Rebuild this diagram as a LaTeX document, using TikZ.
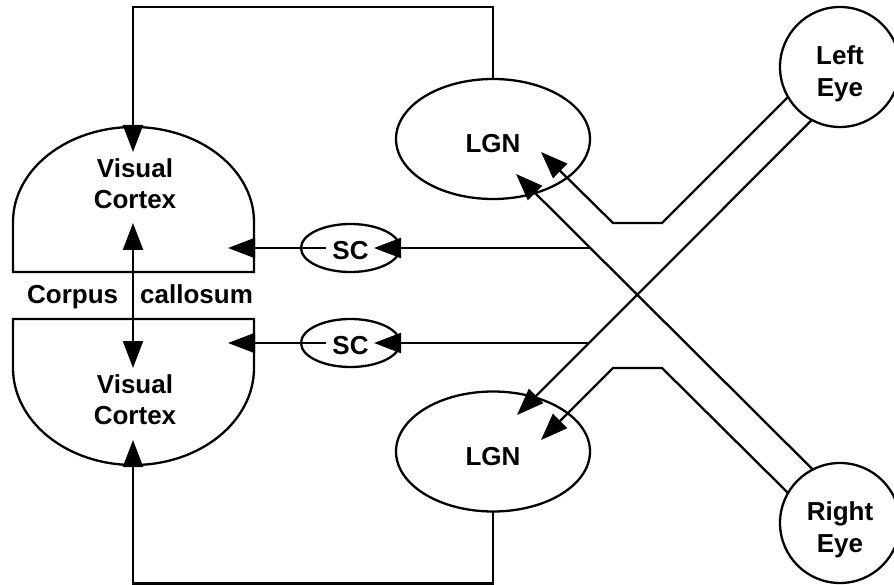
\documentclass[tikz,border=0pt]{standalone}
\usepackage{fontspec}
\setmainfont{Liberation Sans}
\usetikzlibrary{arrows.meta,shapes.geometric}
\begin{document}
\begin{tikzpicture}[x=1pt,y=-1pt,
  ln/.style={line width=2.3pt},
  arr/.style={ln,-{Triangle[length=27pt,width=20pt]}},
  dbl/.style={ln,{Triangle[length=27pt,width=20pt]}-{Triangle[length=27pt,width=20pt]}},
  lbl/.style={font=\fontsize{26}{31.5}\selectfont\bfseries, align=center},
  lgn/.style={ellipse, draw, ln, minimum width=194pt, minimum height=120pt, inner sep=0pt, outer sep=0pt, lbl, text height=27pt, text depth=0pt},
  sc/.style={ellipse, draw, ln, minimum width=99pt, minimum height=48pt, inner sep=0pt, outer sep=0pt, lbl, text height=23pt, text depth=0pt},
  eye/.style={circle, draw, ln, minimum size=120pt, inner sep=0pt, outer sep=0pt, lbl},
]
\fill[white] (0,0) rectangle (894,585);
\useasboundingbox (0,0) rectangle (894,585);

% visual cortex shapes
\draw[ln] (13,272) -- (13,222) arc[start angle=180,end angle=0,x radius=120.5pt,y radius=95pt] -- (254,272) -- cycle;
\draw[ln] (13,319) -- (13,368) arc[start angle=180,end angle=360,x radius=120.5pt,y radius=97pt] -- (254,319) -- cycle;

\node[lbl] (VC1) at (135,183.5) {Visual\\Cortex};
\node[lbl] (VC2) at (135,399.5) {Visual\\Cortex};
\node[lbl, anchor=base west, inner sep=0pt] (CC) at (27,303) {Corpus\hspace{22pt}callosum};

\node[lgn] (LGN1) at (493,139) {LGN};
\node[lgn] (LGN2) at (493,451.5) {LGN};
\node[sc] (SC1) at (350.5,248) {SC};
\node[sc] (SC2) at (350.5,343) {SC};
\node[eye] (LE) at (840,67) {\rule{0pt}{32pt}Left\\Eye};
\node[eye] (RE) at (840,523) {\rule{0pt}{32pt}Right\\Eye};

\coordinate (VC1top) at (133,152);
\coordinate (VC2bot) at (133,440);
\coordinate (VC1low) at (133,223);
\coordinate (VC2up) at (133,368);
\coordinate (VC1r) at (228,248);
\coordinate (VC2r) at (228,343);
\coordinate (J1) at (590,248);
\coordinate (J2) at (589,343);
\coordinate (LEa) at (662,223);
\coordinate (LEb) at (613,223);
\coordinate (REa) at (662,368);
\coordinate (REb) at (613,368);
\coordinate (LGN1a) at (541,152);
\coordinate (LGN1b) at (516,174);
\coordinate (LGN2a) at (541,440);
\coordinate (LGN2b) at (517,415);

\draw[arr] (LGN1.north) -- ++(0,-72) -| (VC1top);
\draw[arr] (LGN2.south) -- ++(0,72) -| (VC2bot);
\draw[dbl] (VC1low) -- (VC2up);

\draw[arr] (J1) -- ([xshift=-26pt]SC1.east);
\draw[arr] ([xshift=25pt]SC1.west) -- (VC1r);
\draw[arr] (J2) -- ([xshift=-26pt]SC2.east);
\draw[arr] ([xshift=25pt]SC2.west) -- (VC2r);

\draw[arr] (LE.210.7) -- (LEa) -- (LEb) -- (LGN1a);
\draw[arr] (LE.242.2) -- (LGN2b);
\draw[arr] (RE.117.8) -- (LGN1b);
\draw[arr] (RE.150) -- (REa) -- (REb) -- (LGN2a);
\end{tikzpicture}
\end{document}
